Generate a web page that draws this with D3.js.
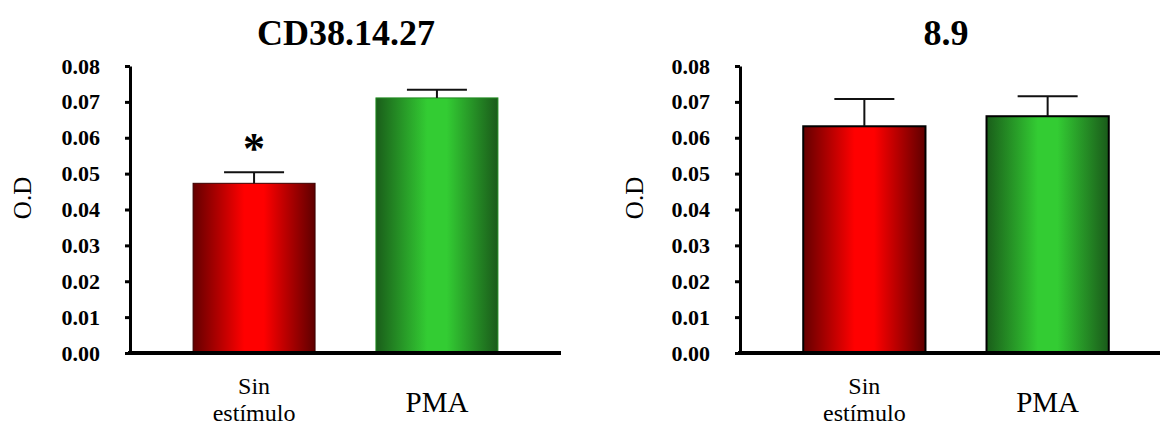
<!DOCTYPE html>
<html>
<head>
<meta charset="utf-8">
<script src="https://cdn.jsdelivr.net/npm/d3@7"></script>
<style>
  body { margin: 0; background: #fff; }
  svg { display: block; font-family: "Liberation Serif", "Times New Roman", serif; }
</style>
</head>
<body>
<figure id="bars" style="margin:0"></figure>
<script>
// data
const categories = ["Sin estímulo", "PMA"];
const titles = ["CD38.14.27", "8.9"];
const meansCD38 = [0.0473, 0.0711];
const errCD38 = [0.0031, 0.0023];
const marksCD38 = ["*", ""];
const means89 = [0.0632, 0.0660];
const err89 = [0.0076, 0.0056];
const marks89 = ["", ""];
const yTicks = [0, 0.01, 0.02, 0.03, 0.04, 0.05, 0.06, 0.07, 0.08];
const yLabel = "O.D";

const width = 1160, height = 427;

const svg = d3.select("figure#bars")
  .append("svg")
  .attr("width", width)
  .attr("height", height);

// gradients for the bars (dark edges, bright middle)
const defs = svg.append("defs");
function addGrad(id, edgeL, mid, edgeR) {
  const g = defs.append("linearGradient").attr("id", id)
    .attr("x1", "0%").attr("x2", "100%").attr("y1", "0%").attr("y2", "0%");
  g.append("stop").attr("offset", "0%").attr("stop-color", edgeL);
  g.append("stop").attr("offset", "42%").attr("stop-color", mid);
  g.append("stop").attr("offset", "58%").attr("stop-color", mid);
  g.append("stop").attr("offset", "100%").attr("stop-color", edgeR);
}
addGrad("gRed", "#640000", "#ff0000", "#5e0000");
addGrad("gGreen", "#1a5e1a", "#33cc33", "#1a5a1a");
const fills = ["url(#gRed)", "url(#gGreen)"];

const panels = [
  { title: titles[0], means: meansCD38, errs: errCD38, marks: marksCD38,
    x0: 130, x1: 561, axisEnd: 561, titleX: 346, labelX: 22, stroke: ["#3a0000", "#1f8a1f"], sw: 1 },
  { title: titles[1], means: means89, errs: err89, marks: marks89,
    x0: 740, x1: 1172, axisEnd: 1160, titleX: 946, labelX: 634, stroke: ["#000", "#000"], sw: 2 }
];

const yTop = 66, yBottom = 353;

panels.forEach(p => {
  const g = svg.append("g");

  const x = d3.scaleBand()
    .domain(categories)
    .range([p.x0, p.x1])
    .paddingInner(0.333)
    .paddingOuter(0.345);

  const y = d3.scaleLinear()
    .domain([0, 0.08])
    .range([yBottom, yTop]);

  // title
  g.append("text")
    .attr("x", p.titleX).attr("y", 45)
    .attr("text-anchor", "middle")
    .style("font-size", "36px").style("font-weight", "bold")
    .text(p.title);

  // y label
  g.append("text")
    .attr("transform", "translate(" + p.labelX + ",198)rotate(-90)")
    .attr("text-anchor", "middle")
    .attr("dominant-baseline", "central")
    .style("font-size", "25px")
    .text(yLabel);

  // bars
  g.selectAll("rect.bar")
    .data(p.means)
    .enter()
    .append("rect")
    .attr("class", "bar")
    .attr("x", (d, i) => x(categories[i]))
    .attr("y", d => y(d))
    .attr("width", x.bandwidth())
    .attr("height", d => yBottom - y(d))
    .attr("fill", (d, i) => fills[i])
    .attr("stroke", (d, i) => p.stroke[i])
    .attr("stroke-width", p.sw);

  // error bars (upper only)
  const cap = 30;
  p.means.forEach((m, i) => {
    const cx = x(categories[i]) + x.bandwidth() / 2;
    g.append("line")
      .attr("x1", cx).attr("x2", cx)
      .attr("y1", y(m)).attr("y2", y(m + p.errs[i]))
      .attr("stroke", "#111").attr("stroke-width", 2);
    g.append("line")
      .attr("x1", cx - cap).attr("x2", cx + cap)
      .attr("y1", y(m + p.errs[i])).attr("y2", y(m + p.errs[i]))
      .attr("stroke", "#111").attr("stroke-width", 2);
    if (p.marks[i]) {
      g.append("text")
        .attr("x", cx).attr("y", y(m + p.errs[i]) - 9)
        .attr("text-anchor", "middle")
        .style("font-size", "44px").style("font-weight", "bold")
        .text(p.marks[i]);
    }
  });

  // y axis
  const yAxis = g.append("g")
    .attr("transform", "translate(" + p.x0 + ",0)")
    .call(d3.axisLeft(y).tickValues(yTicks).tickFormat(d3.format(".2f"))
      .tickSize(5).tickSizeOuter(0).tickPadding(25));
  yAxis.select(".domain").attr("stroke", "#000").attr("stroke-width", 3);
  yAxis.selectAll(".tick line").attr("stroke", "#000").attr("stroke-width", 3);
  yAxis.selectAll(".tick text")
    .style("font-family", "'Liberation Serif', serif")
    .style("font-size", "22px").style("font-weight", "bold").attr("fill", "#000");

  // x axis line
  g.append("line")
    .attr("x1", p.x0 - 2).attr("x2", p.axisEnd)
    .attr("y1", yBottom).attr("y2", yBottom)
    .attr("stroke", "#000").attr("stroke-width", 4);

  // category labels
  categories.forEach((c, i) => {
    const cx = x(c) + x.bandwidth() / 2;
    const parts = c.split(" ");
    const t = g.append("text")
      .attr("text-anchor", "middle")
      .style("font-size", parts.length > 1 ? "24px" : "29px");
    if (parts.length > 1) {
      parts.forEach((s, k) => {
        t.append("tspan").attr("x", cx).attr("y", 394 + k * 27).text(s);
      });
    } else {
      t.attr("x", cx).attr("y", 412).text(c);
    }
  });
});
</script>
</body>
</html>
